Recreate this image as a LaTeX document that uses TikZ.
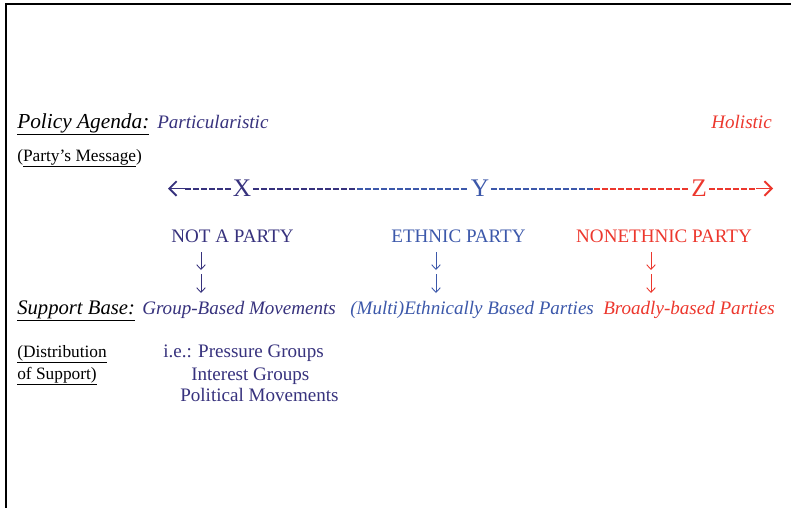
\documentclass[tikz,border=0pt]{standalone}
\usepackage{fontspec}
\setmainfont{Liberation Serif}
\usetikzlibrary{arrows.meta}
\definecolor{navy}{RGB}{55,50,125}
\definecolor{ethblue}{RGB}{60,88,170}
\definecolor{broadred}{RGB}{236,55,45}
\begin{document}
\begin{tikzpicture}[x=0.75pt,y=-0.75pt,
  head/.style={anchor=base west,inner sep=0pt,font=\fontsize{16}{20}\selectfont\itshape},
  lbl/.style={inner sep=0pt,font=\fontsize{14.3}{17}\selectfont},
  ital/.style={inner sep=0pt,anchor=base west,font=\fontsize{14.3}{17}\selectfont\itshape},
  small/.style={anchor=base west,inner sep=0pt,font=\fontsize{13}{15}\selectfont},
  letter/.style={inner sep=1.5pt,font=\fontsize{19}{22}\selectfont},
  dashline/.style={line width=1.5pt,dash pattern=on 4.2pt off 1.8pt},
  endtip/.style={line width=1.4pt,-{Straight Barb[length=5.5pt,width=11pt]}},
  down/.style={line width=0.65pt,-{Straight Barb[length=3.5pt,width=6.5pt]}}]
\useasboundingbox (0,0) rectangle (791,508);
% frame
\draw[line width=0.9pt] (791,4) -- (6,4) -- (6,508);

% policy agenda
\node[head] (pa) at (17,128) {\underline{Policy Agenda:}};
\node[ital,navy] (part) at (157,128) {Particularistic};
\node[ital,anchor=base east,broadred] (hol) at (772,128) {Holistic};
\node[small] (msg) at (17,161) {(\underline{Party’s Message})};

% the scale X -- Y -- Z
\node[letter,navy] (X) at (242,188.5) {X};
\node[letter,ethblue] (Y) at (480,188.5) {Y};
\node[letter,broadred] (Z) at (699,188.5) {Z};
\coordinate (la) at (185,188.5);
\coordinate (lt) at (168,188.5);
\coordinate (ra) at (756,188.5);
\coordinate (rt) at (773,188.5);
\coordinate (nb) at (357,188.5);
\coordinate (br) at (594,188.5);
\draw[endtip,navy] (la) -- (lt);
\draw[dashline,navy] (la) -- (X.west);
\draw[dashline,navy] (X.east) -- (nb);
\draw[dashline,ethblue] (nb) -- (Y.west);
\draw[dashline,ethblue] (Y.east) -- (br);
\draw[dashline,broadred] (br) -- (Z.west);
\draw[dashline,broadred] (Z.east) -- (ra);
\draw[endtip,broadred] (ra) -- (rt);

% party types
\node[lbl,anchor=base,navy] (np) at (232.5,242) {NOT A PARTY};
\node[lbl,anchor=base,ethblue] (ep) at (458.5,242) {ETHNIC PARTY};
\node[lbl,anchor=base,broadred] (nep) at (664,242) {NONETHNIC PARTY};

% arrows down to the support base
\foreach \n/\px/\col in {1/201/navy,2/436/ethblue,3/651/broadred}{
  \coordinate (a\n) at (\px,252);
  \coordinate (b\n) at (\px,270);
  \coordinate (c\n) at (\px,274);
  \coordinate (d\n) at (\px,293);
  \draw[down,\col] (a\n) -- (b\n);
  \draw[down,\col] (c\n) -- (d\n);
}

% support base
\node[head,font=\fontsize{15.5}{20}\selectfont\itshape] (sb) at (17,314) {\underline{Support Base:}};
\node[ital,navy] (gb) at (142,314) {Group-Based Movements};
\node[ital,ethblue] (eb) at (350,314) {(Multi)Ethnically Based Parties};
\node[ital,broadred] (bb) at (603,314) {Broadly-based Parties};

% distribution of support
\node[small] (dist1) at (17,357) {\underline{(Distribution}};
\node[small] (dist2) at (17,379) {\underline{of Support)}};
\node[lbl,anchor=base west,navy] (ie1) at (163,357.5) {i.e.: Pressure Groups};
\node[lbl,anchor=base west,navy] (ie2) at (191,380) {Interest Groups};
\node[lbl,anchor=base west,navy] (ie3) at (180,401.5) {Political Movements};
\end{tikzpicture}
\end{document}
